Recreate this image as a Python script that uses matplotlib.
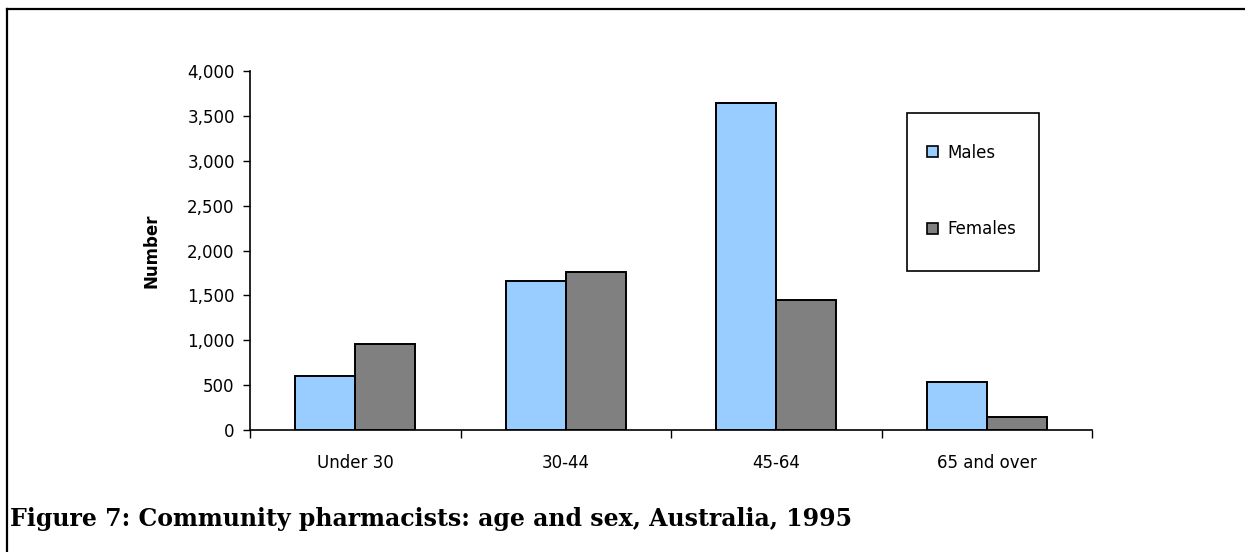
import matplotlib
matplotlib.use("Agg")
import matplotlib.pyplot as plt
from matplotlib.ticker import FuncFormatter, FixedLocator
from matplotlib.patches import Rectangle, Patch
from matplotlib.lines import Line2D
import numpy as np

categories = ["Under 30", "30-44", "45-64", "65 and over"]
males = [600, 1665, 3645, 540]
females = [960, 1765, 1445, 140]
series_names = ["Males", "Females"]
yticks = [0, 500, 1000, 1500, 2000, 2500, 3000, 3500, 4000]
caption = "Figure 7: Community pharmacists: age and sex, Australia, 1995"

W, H = 1245, 552
plt.rcParams["font.family"] = ["DejaVu Sans"]
fig = plt.figure(figsize=(W / 100, H / 100), dpi=100)
fig.patch.set_facecolor("white")

FS = 12

ax = fig.add_axes([250 / W, 1 - 430 / H, (1092 - 250) / W, (430 - 71) / H])

x = np.arange(len(categories))
bw = 0.285
c_m = "#99CCFF"
c_f = "#808080"
ax.bar(x - bw / 2, males, bw, color=c_m, edgecolor="black", linewidth=1.4, zorder=3)
ax.bar(x + bw / 2, females, bw, color=c_f, edgecolor="black", linewidth=1.4, zorder=3)

ax.set_xlim(-0.5, len(categories) - 0.5)
ax.set_ylim(0, 4000)
ax.set_yticks(yticks)
ax.yaxis.set_major_formatter(FuncFormatter(lambda v, p: f"{int(v):,}"))
ax.tick_params(axis="y", direction="out", length=5, width=1, pad=6, labelsize=FS, colors="black")

ax.xaxis.set_major_locator(FixedLocator(np.arange(-0.5, len(categories), 1.0)))
ax.xaxis.set_minor_locator(FixedLocator(x))
ax.set_xticklabels([], minor=False)
ax.set_xticklabels(categories, minor=True)
ax.tick_params(axis="x", which="major", direction="out", length=6, width=1)
ax.tick_params(axis="x", which="minor", length=0, pad=17, labelsize=FS)

for s in ["top", "right"]:
    ax.spines[s].set_visible(False)
for s in ["left", "bottom"]:
    ax.spines[s].set_linewidth(1.2)

ax.set_ylabel("Number", fontsize=FS, fontweight="bold")
ax.yaxis.set_label_coords(-(250 - 161) / (1092 - 250), 0.5)

# legend box
fig.patches.append(Rectangle((907 / W, 1 - 271 / H), (1039 - 907) / W, (271 - 113) / H,
                             transform=fig.transFigure, facecolor="white",
                             edgecolor="black", linewidth=1.2, zorder=5))
handles = [Patch(facecolor=c_m, edgecolor="black", linewidth=1.2),
           Patch(facecolor=c_f, edgecolor="black", linewidth=1.2)]
leg = fig.legend(handles, series_names, loc="center left",
                 bbox_to_anchor=(927 / W, 1 - 190.75 / H), frameon=False,
                 fontsize=FS, handlelength=0.65, handleheight=0.65,
                 handletextpad=0.55, labelspacing=3.5, borderpad=0, borderaxespad=0)
leg.set_zorder(6)

# outer frame (top and left lines)
fig.add_artist(Line2D([7 / W, 1.0], [1 - 9 / H, 1 - 9 / H], transform=fig.transFigure,
                      color="black", linewidth=1.6))
fig.add_artist(Line2D([7 / W, 7 / W], [1 - 9 / H, 0.0], transform=fig.transFigure,
                      color="black", linewidth=1.6))

fig.text(10 / W, 1 - 519 / H, caption, fontsize=17, fontweight="bold",
         family=["DejaVu Serif"], va="center", ha="left")

fig.savefig("out.png", dpi=100, facecolor="white")
